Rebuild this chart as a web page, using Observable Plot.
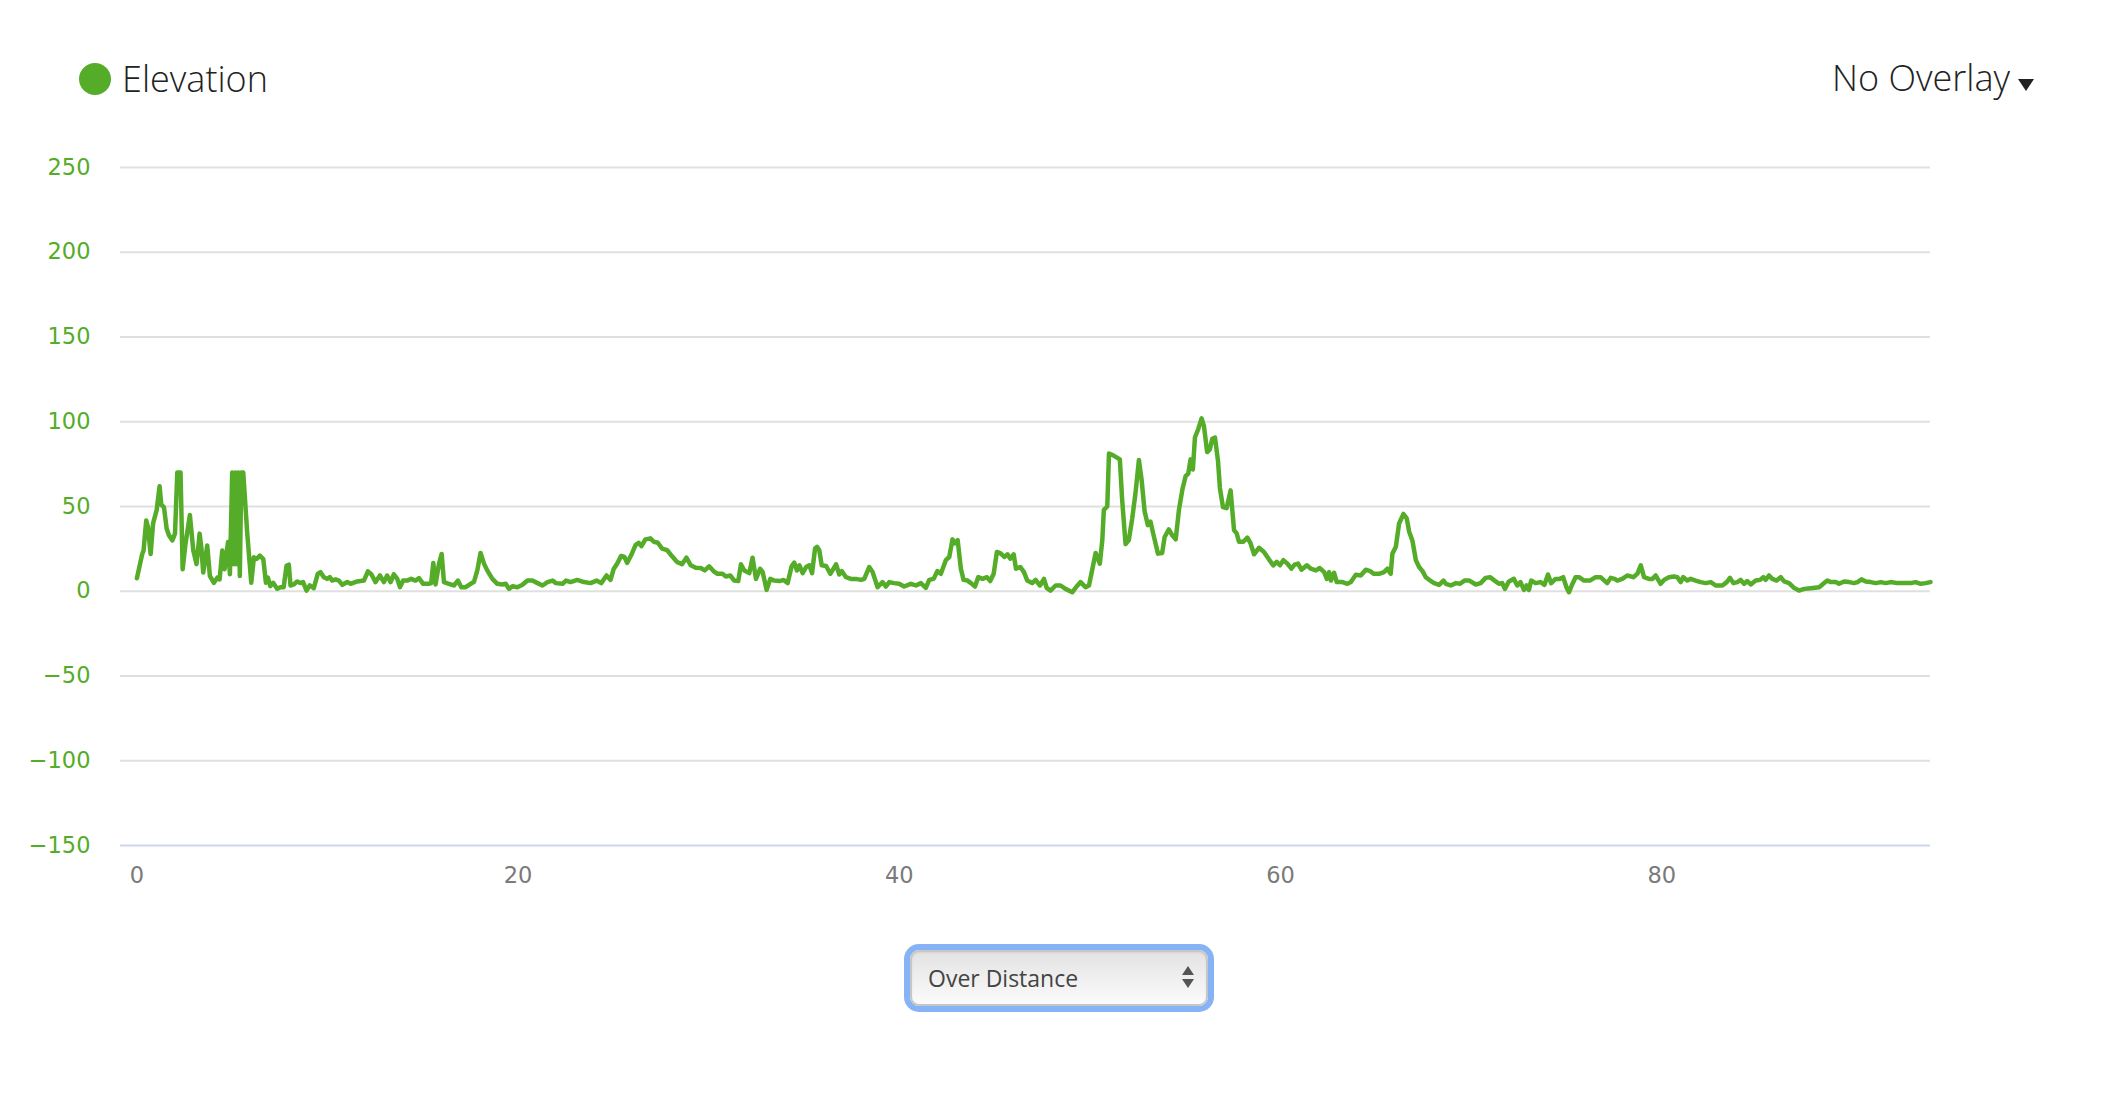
<!DOCTYPE html>
<html>
<head>
<meta charset="utf-8">
<script src="https://cdn.jsdelivr.net/npm/d3@7"></script>
<script src="https://cdn.jsdelivr.net/npm/@observablehq/plot@0.6"></script>
<style>
  html, body { margin: 0; padding: 0; background: #fff; }
  body { width: 2116px; height: 1098px; position: relative; overflow: hidden; font-family: "Open Sans", sans-serif; }
  #header { position: relative; height: 120px; }
  #legend-dot { position: absolute; left: 79px; top: 63px; width: 32px; height: 32px; border-radius: 50%; background: #54ac28; }
  #legend-text { position: absolute; left: 122px; top: 55px; font-size: 36px; line-height: 48px; font-weight: 300; color: #222; }
  #overlay { position: absolute; left: 1832px; top: 54px; font-size: 36px; line-height: 48px; font-weight: 300; color: #222; white-space: nowrap; }
  #overlay .tri { display: inline-block; width: 0; height: 0; margin-left: 8px; border-left: 8px solid transparent; border-right: 8px solid transparent; border-top: 12px solid #222; vertical-align: 0px; }
  #chart svg { display: block; }
  #dropdown { position: absolute; left: 904px; top: 944px; width: 310px; height: 68px; box-sizing: border-box; border: 6px solid #86b3f5; border-radius: 15px; }
  #dropdown .inner { position: absolute; left: 0; top: 0; right: 0; bottom: 0; border: 2px solid #c6c6c6; border-radius: 9px; background: linear-gradient(#e3e3e3, #fbfbfb); box-shadow: inset 0 1px 2px rgba(0,0,0,0.08); }
  #dropdown .label { position: absolute; left: 16px; top: 0; line-height: 52px; font-size: 23px; color: #444; }
  #dropdown .up { position: absolute; right: 12px; top: 14px; width: 0; height: 0; border-left: 6px solid transparent; border-right: 6px solid transparent; border-bottom: 9px solid #555; }
  #dropdown .down { position: absolute; right: 12px; top: 27px; width: 0; height: 0; border-left: 6px solid transparent; border-right: 6px solid transparent; border-top: 9px solid #555; }
</style>
</head>
<body>
<div id="header">
  <div id="legend-dot"></div>
  <div id="legend-text">Elevation</div>
  <div id="overlay">No Overlay<span class="tri"></span></div>
</div>
<div id="chart"></div>
<div id="dropdown"><div class="inner"><div class="label">Over Distance</div><div class="up"></div><div class="down"></div></div></div>
<script>
const distanceKm = [
  0,0.28,0.35,0.49,0.58,0.72,0.85,1.04,1.19,1.28,1.42,1.56,1.68,1.86,2.0,2.12,2.29,2.4,2.55,2.78,2.96,3.13,3.29,3.38,3.48,3.69,3.83,4.04,4.22,4.34,4.48,4.6,4.78,4.88,5.0,5.09,5.18,5.26,5.32,5.4,5.48,5.58,5.79,6.0,6.14,6.28,6.45,6.63,6.77,6.87,7.0,7.15,7.36,7.53,7.7,7.85,7.97,8.06,8.23,8.41,8.58,8.72,8.9,9.07,9.28,9.49,9.63,9.81,9.98,10.12,10.25,10.42,10.6,10.78,11.04,11.21,11.56,11.91,12.12,12.3,12.52,12.75,12.96,13.13,13.31,13.48,13.66,13.8,13.97,14.18,14.39,14.62,14.8,15.02,15.31,15.44,15.55,15.67,15.85,15.99,16.11,16.37,16.63,16.84,17.02,17.25,17.51,17.68,17.86,18.03,18.21,18.38,18.65,18.91,19.17,19.35,19.52,19.7,19.96,20.23,20.49,20.75,21.02,21.28,21.54,21.81,21.98,22.33,22.51,
  22.75,23.1,23.45,23.8,24.12,24.36,24.64,24.85,25.02,25.2,25.4,25.58,25.72,25.93,26.16,26.33,26.47,26.68,26.94,27.12,27.33,27.55,27.82,28.08,28.34,28.6,28.83,29.06,29.32,29.58,29.79,30.02,30.25,30.46,30.72,30.9,31.13,31.34,31.55,31.69,31.86,32.13,32.3,32.48,32.7,32.83,33.04,33.23,33.44,33.71,33.93,34.14,34.35,34.49,34.63,34.76,34.93,35.11,35.28,35.42,35.58,35.68,35.8,35.93,36.16,36.38,36.68,36.85,36.98,37.2,37.46,37.72,37.99,38.16,38.42,38.6,38.86,39.12,39.3,39.47,39.73,39.99,40.25,40.6,40.87,41.13,41.39,41.57,41.8,42.0,42.18,42.44,42.62,42.79,42.92,43.06,43.23,43.37,43.58,43.76,43.97,44.14,44.37,44.6,44.77,44.95,45.12,45.33,45.51,45.68,45.82,46.0,46.12,46.35,
  46.54,46.71,46.97,47.15,47.38,47.59,47.73,47.93,48.2,48.46,48.72,49.07,49.3,49.51,49.77,49.95,50.12,50.3,50.52,50.65,50.73,50.91,51.0,51.22,51.57,51.69,51.87,52.04,52.22,52.39,52.57,52.71,52.87,53.04,53.18,53.32,53.57,53.79,53.92,54.14,54.32,54.5,54.67,54.85,55.02,55.16,55.28,55.4,55.51,55.68,55.86,55.98,56.15,56.29,56.42,56.56,56.72,56.82,56.98,57.17,57.38,57.56,57.7,57.82,58.05,58.26,58.43,58.61,58.87,59.13,59.4,59.62,59.8,59.97,60.15,60.36,60.57,60.74,60.92,61.1,61.38,61.59,61.85,62.06,62.29,62.43,62.55,62.64,62.81,62.95,63.25,63.51,63.69,63.95,64.21,64.47,64.7,64.88,65.17,65.43,65.61,65.78,65.87,66.05,66.22,66.45,66.62,66.75,66.92,67.1,67.27,67.45,67.62,67.85,68.06,68.32,68.55,68.67,68.93,69.2,69.42,69.65,69.91,
  70.24,70.5,70.76,70.99,71.23,71.46,71.63,71.77,71.98,72.24,72.42,72.59,72.77,72.91,73.03,73.15,73.38,73.64,73.85,74.03,74.2,74.43,74.65,74.83,75.0,75.13,75.3,75.48,75.66,75.92,76.23,76.53,76.79,77.14,77.32,77.53,77.67,77.93,78.19,78.51,78.72,78.9,79.07,79.33,79.51,79.68,79.94,80.12,80.38,80.64,80.82,80.99,81.13,81.34,81.52,81.78,82.04,82.31,82.57,82.83,83.18,83.41,83.58,83.76,83.97,84.14,84.32,84.49,84.67,84.93,85.16,85.33,85.45,85.63,85.8,86.03,86.24,86.42,86.68,86.94,87.2,87.47,87.82,88.26,88.52,88.69,88.87,89.13,89.3,89.57,89.83,90.09,90.27,90.48,90.7,90.96,91.23,91.49,91.75,92.01,92.36,92.71,93.06,93.32,93.58,93.84,94.1
];
const elevationM = [
  7.7,22,24,41.7,38,22,40,48,62,51,49.6,37,33,30,34,70,70,13,28,45,24,16,34,26,11,27,9,5,8,7,24,13,29,10,70,16,70,16,70,9,70,70,34,5,20,19,21,19,5,8,3,5,1.4,2.4,2.4,15,15.7,3.4,4,5.8,4.8,5.4,0.4,3.4,1.8,10.3,11.3,8.3,7.3,8.3,6.3,7,6.3,3.8,5.4,4.4,5.8,6.3,11.7,10,5.4,9.3,5.4,9.3,5.4,10,7.3,2.4,6.3,6.3,7.3,6.3,7.7,4.4,4.4,4.8,16.7,4,16.3,22,5.4,4.4,3.4,6.3,2.4,2.4,4.4,5.4,12.3,22.6,16.3,12.3,7.3,4.4,4,4.4,1.4,3,2.4,3.8,6.3,6.3,4.8,3.4,5.4,6.3,4.8,4.4,6.3,
  5.4,6.7,5.4,4.8,6.3,4.8,9.3,6.7,13.3,16.3,20.8,20.2,16.7,21.2,27.2,28.6,26.6,30.6,31.2,29.2,28.6,25.2,24.2,20.6,17.3,15.9,19.8,15.3,13.9,13.7,12.3,14.7,11.9,10.3,10.3,8.7,9.3,6.3,6,15.9,12.3,10.7,19.8,7.3,13.3,11.3,0.8,7.3,6.3,6,6.7,4.8,14.7,16.9,12.3,15.3,10.7,14.3,15.3,10.7,25.2,26.2,24.2,15.3,14.9,10.3,15.9,9.9,11.9,8.3,7.3,7.3,6.7,7.3,14.3,11.3,2.4,5.4,2.8,5.4,4.8,4.4,2.8,4.4,3.4,4.8,2,6.7,7.3,11.9,10.3,18.3,20.2,30.6,28.2,30.2,13.3,6.7,6.3,4.8,2.8,8.3,7.3,8.3,6,10.3,23.2,22.2,20.2,21.8,19.2,21.8,13.3,14.3,
  11.3,6.3,4.8,6.7,3.4,7.3,2,0.4,3.4,3.4,1.4,-0.6,2.8,5.4,2.4,3.4,12.7,22.6,16.3,30.2,48,50,81.3,80.2,77.8,54,27.8,30.2,43,57.9,77.4,65.9,47,39,41,34,22.2,22.6,32,36.5,33,30.6,48,60,67.9,69.4,77.8,71.8,90.7,95.6,102,97.6,82.1,83.7,90,90.7,76.8,60.9,49.6,49,59.5,36.1,34.1,29.2,29.2,31.7,28.2,21.8,25.6,23.2,18.7,15.3,17.3,15.3,18.3,16.3,13.3,15.7,16.3,12.7,15.3,13.3,12.3,13.7,11.3,7.3,11.3,6.3,10.9,5.4,5.4,4.4,5.4,9.7,9.3,12.7,11.9,10.3,10.3,11.3,13.3,10.3,22.2,26.2,40,45.6,43,35.1,29.8,18.3,14.3,11.9,8.3,6.3,4.8,3.8,6.3,4.4,3.4,4.8,4.4,6.3,6.3,
  4,4.8,7.9,8.3,6.3,4.4,4.8,1.4,5.8,7.3,3.4,5.4,0.8,3.4,0.8,6.3,4.8,5.4,3.8,9.9,4.8,7.3,7.3,8.3,2.4,-0.6,4,8.3,8.3,6.3,6.3,8.3,8.3,4.8,7.9,7.3,6.3,7.3,9.3,8.3,10.3,15.3,8.3,7.3,7.3,9.3,4.4,6.7,8.3,8.7,8.3,5.4,8.3,6.3,7.3,6.3,5.4,4.8,5.4,3.4,3.4,5.4,7.9,4.8,5.4,6.7,4.4,6,4,6.3,6.7,8.3,6.7,9.3,7.3,6.3,8.3,5.8,4.8,2,0.4,1.4,1.8,2.4,4.8,6.3,5.4,5.4,4.4,5.8,5.4,4.8,5.4,7,5.8,5.4,4.8,5.4,4.8,5.4,4.8,4.8,4.8,5.4,4.4,4.8,5.4
];
const yTicks = [-150, -100, -50, 0, 50, 100, 150, 200, 250];
const xTicks = [0, 20, 40, 60, 80];
const seriesName = "Elevation";

const lineColor = "#54ac28";
const data = distanceKm.map((d, i) => ({km: d, elev: elevationM[i]}));

const chart = Plot.plot({
  width: 2116,
  height: 790,
  marginLeft: 120,
  marginRight: 186,
  marginTop: 47,
  marginBottom: 65,
  style: {fontFamily: "'DejaVu Sans', Verdana, sans-serif", fontSize: "22px", background: "transparent", overflow: "visible"},
  x: {domain: [-0.86, 94.1]},
  y: {domain: [-150, 250]},
  marks: [
    Plot.gridY(yTicks.filter(t => t > -150), {stroke: "#e0e0e0", strokeOpacity: 1, strokeWidth: 2}),
    Plot.ruleY([-150], {stroke: "#ccd6eb", strokeWidth: 2}),
    Plot.axisY(yTicks, {tickSize: 0, tickPadding: 30, fill: lineColor, fontSize: 22.5, label: null}),
    Plot.axisX(xTicks, {tickSize: 0, tickPadding: 22, fill: "#7a7a7a", fontSize: 22.5, label: null}),
    Plot.line(data, {x: "km", y: "elev", stroke: lineColor, strokeWidth: 4.5, strokeLinejoin: "round", strokeLinecap: "round"})
  ]
});
document.getElementById("chart").appendChild(chart);
</script>
</body>
</html>
